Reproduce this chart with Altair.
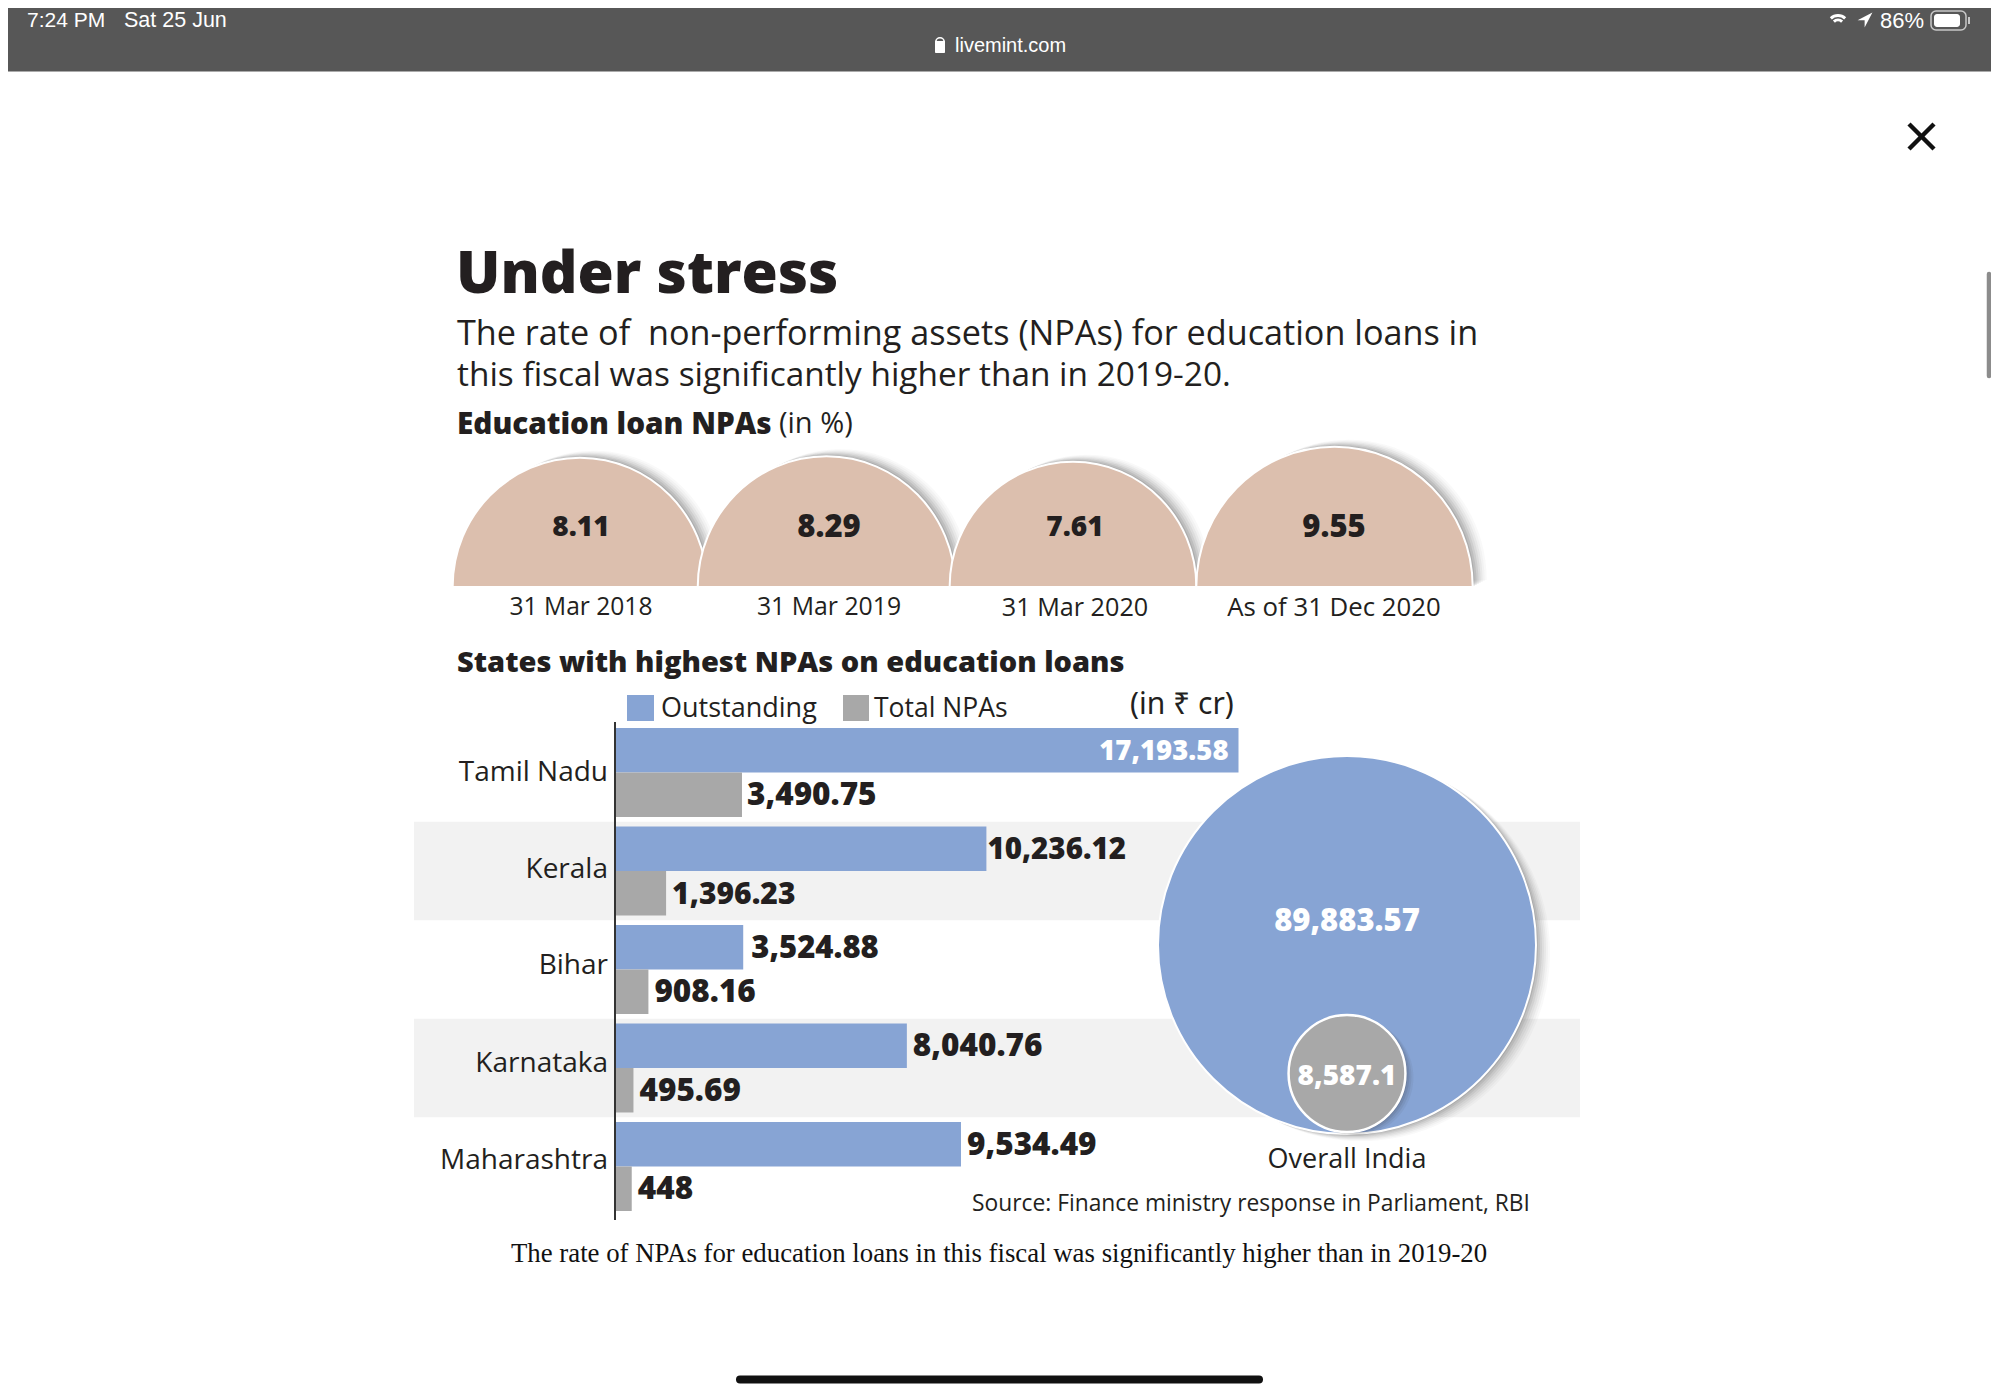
import math
import altair as alt
import pandas as pd

# ---------- data ----------
states = ["Tamil Nadu", "Kerala", "Bihar", "Karnataka", "Maharashtra"]
outstanding = [17193.58, 10236.12, 3524.88, 8040.76, 9534.49]
total_npas = [3490.75, 1396.23, 908.16, 495.69, 448]
outstanding_labels = ["17,193.58", "10,236.12", "3,524.88", "8,040.76", "9,534.49"]
npa_labels = ["3,490.75", "1,396.23", "908.16", "495.69", "448"]
series_names = ["Outstanding", "Total NPAs"]
dates = ["31 Mar 2018", "31 Mar 2019", "31 Mar 2020", "As of 31 Dec 2020"]
rates = [8.11, 8.29, 7.61, 9.55]
rate_labels = ["8.11", "8.29", "7.61", "9.55"]
india_values = [89883.57, 8587.1]
india_labels = ["89,883.57", "8,587.1"]

# ---------- layout & style (page pixels) ----------
W, H = 1983, 1381
def X(v): return v - 8
def Y(v): return v - 8
BLUE, GREY, DOME, BAND, INK = "#87a4d4", "#a8a8a8", "#dcbfae", "#f2f2f2", "#231f20"
SANS, BOLD_FONT, STATUS = "Open Sans", "Open Sans", "Liberation Sans"
HEAVY = 800

def label(text, x, y, size, color=INK, bold=False, align="left", font=SANS):
    return alt.Chart(pd.DataFrame({"k": [0]})).mark_text(
        text=text, fontSize=size, font=font, color=color, align=align, baseline="middle",
        fontWeight=HEAVY if bold else "normal",
    ).encode(x=alt.value(X(x)), y=alt.value(Y(y)))

def box(x0, x1, y0, y1, color, corner=0, **kw):
    return alt.Chart(pd.DataFrame({"k": [0]})).mark_rect(color=color, cornerRadius=corner, **kw).encode(
        x=alt.value(X(x0)), x2=alt.value(X(x1)), y=alt.value(Y(y0)), y2=alt.value(Y(y1)))

def line(x0, y0, x1, y1, color, width, cap="butt"):
    return alt.Chart(pd.DataFrame({"k": [0]})).mark_rule(color=color, strokeWidth=width, strokeCap=cap).encode(
        x=alt.value(X(x0)), x2=alt.value(X(x1)), y=alt.value(Y(y0)), y2=alt.value(Y(y1)))

layers = []

# ---------- browser chrome ----------
layers.append(box(0, 2010, 0, 71.5, "#575757"))
layers.append(label("7:24 PM", 27, 20.5, 21, "#ffffff", font=STATUS))
layers.append(label("Sat 25 Jun", 124, 20.5, 21.5, "#ffffff", font=STATUS))
layers.append(label("livemint.com", 955, 46, 20, "#ffffff", font=STATUS))
layers.append(label("86%", 1880, 20.5, 22, "#ffffff", font=STATUS))
layers.append(box(935, 945, 41, 53, "#ffffff", corner=1))
layers.append(alt.Chart(pd.DataFrame({"k": [0]})).mark_arc(
    radius=5, radius2=3.4, theta=-1.57 + 2 * math.pi, theta2=1.57 + 2 * math.pi, color="#ffffff"
).encode(x=alt.value(X(940)), y=alt.value(Y(42))))
for r0, r1 in [(9, 12), (4.5, 7.5)]:
    layers.append(alt.Chart(pd.DataFrame({"k": [0]})).mark_arc(
        radius=r1, radius2=r0, theta=2 * math.pi - 0.75, theta2=2 * math.pi + 0.75, color="#ffffff"
    ).encode(x=alt.value(X(1838)), y=alt.value(Y(26))))
layers.append(alt.Chart(pd.DataFrame({"k": [0]})).mark_point(
    shape="M1,-1 L-1,0.05 L-0.05,0.05 L-0.05,1 Z", filled=True, color="#ffffff", size=220, opacity=1
).encode(x=alt.value(X(1865)), y=alt.value(Y(20))))
layers.append(box(1931, 1966, 11, 30, "#575757", corner=5, stroke="#c8c8c8", strokeWidth=1.5))
layers.append(box(1934, 1960, 14, 27, "#ffffff", corner=3))
layers.append(line(1969, 17, 1969, 24, "#c8c8c8", 2))

# close icon, scrollbar, home bar
layers.append(line(1909, 124, 1934, 149, "#111111", 4.5))
layers.append(line(1934, 124, 1909, 149, "#111111", 4.5))
layers.append(line(1989, 274, 1989, 376, "#8c8c8c", 4.5, "round"))
layers.append(line(740, 1379.5, 1259, 1379.5, "#111111", 8, "round"))

# ---------- headings ----------
layers.append(label("Under stress", 456, 275, 58.7, bold=True))
layers.append(label("The rate of\u00a0\u00a0non-performing assets (NPAs) for education loans in", 457, 335, 34.2))
layers.append(label("this fiscal was significantly higher than in 2019-20.", 457, 376, 33.4))
layers.append(label("Education loan NPAs", 457, 425, 29.7, bold=True))
layers.append(label("(in %)", 779, 424, 29))

# ---------- domes (area-scaled half ellipses) ----------
dome_x = [580, 826.5, 1073, 1334.5]
dome_label_x = [581, 829, 1075, 1334]
dome_value_size = [28, 31, 28, 31]
dome_date_size = [24.6, 24.8, 25.2, 25.8]
dome_base = 587
DOME_PATH = "M-1,0 C-1,-0.561 -0.552,-1.015 0,-1.015 C0.552,-1.015 1,-0.561 1,0 Z"
dome_size = alt.Size("rate:Q", scale=alt.Scale(domain=[0, 10], range=[0, 80000], zero=True), legend=None)
for i, (d, r) in enumerate(zip(dates, rates)):
    df = pd.DataFrame({"date": [d], "rate": [r]})
    for off, op in [(14, .03), (12, .04), (10, .05), (8, .07), (6, .09), (4, .11), (2, .14)]:
        layers.append(alt.Chart(df).mark_point(shape=DOME_PATH, filled=True, color="#444444", opacity=op).encode(
            size=dome_size, x=alt.value(X(dome_x[i] + off)), y=alt.value(Y(dome_base - off * .5))))
for i, (d, r) in enumerate(zip(dates, rates)):
    df = pd.DataFrame({"date": [d], "rate": [r], "lab": [rate_labels[i]]})
    layers.append(alt.Chart(df).mark_point(shape=DOME_PATH, filled=True, color=DOME, opacity=1, stroke="#ffffff", strokeWidth=2).encode(
        size=dome_size, x=alt.value(X(dome_x[i])), y=alt.value(Y(dome_base))))
for i, (d, r) in enumerate(zip(dates, rates)):
    df = pd.DataFrame({"date": [d], "rate": [r], "lab": [rate_labels[i]]})
    layers.append(alt.Chart(df).mark_text(fontSize=dome_value_size[i], font=BOLD_FONT, fontWeight=HEAVY, color=INK, baseline="middle").encode(
        text="lab:N", x=alt.value(X(dome_label_x[i])), y=alt.value(Y(528))))
    layers.append(alt.Chart(df).mark_text(fontSize=dome_date_size[i], font=SANS, color=INK, baseline="middle").encode(
        text="date:N", x=alt.value(X(dome_label_x[i])), y=alt.value(Y(608))))

# ---------- state bars ----------
layers.append(label("States with highest NPAs on education loans", 457, 663, 29, bold=True))
layers.append(box(627, 654, 695, 721, BLUE))
layers.append(label(series_names[0], 661, 709, 27))
layers.append(box(843, 869, 695, 721, GREY))
layers.append(label(series_names[1], 874, 709, 26.5))
layers.append(label("(in ₹ cr)", 1130, 705, 30, font="Noto Sans"))

rows = pd.DataFrame({
    "state": states * 2,
    "series": [series_names[0]] * 5 + [series_names[1]] * 5,
    "value": outstanding + total_npas,
    "lab": outstanding_labels + npa_labels,
})
px_per_unit = 623 / 17193.58
x_zero = X(615.5)
x_scale = alt.Scale(domain=[-x_zero / px_per_unit, (W - x_zero) / px_per_unit], range=[0, W], nice=False, zero=False)
y_scale = alt.Scale(domain=states, range=[Y(723.25), Y(723.25) + 5 * 98.5], paddingInner=0, paddingOuter=0)
y_enc = alt.Y("state:N", scale=y_scale, axis=None)
yoff = alt.YOffset("series:N", scale=alt.Scale(domain=series_names, paddingInner=0, paddingOuter=0.107))
x_enc = alt.X("value:Q", scale=x_scale, axis=None)

stripes = alt.Chart(pd.DataFrame({"state": [states[1], states[3]]})).mark_bar(color=BAND, opacity=1).encode(
    y=y_enc, x=alt.value(X(414)), x2=alt.value(X(1580)))
layers.append(stripes)
layers.append(alt.Chart(rows).mark_bar(opacity=1).encode(
    x=x_enc, y=y_enc, yOffset=yoff,
    x2=alt.datum(0),
    color=alt.Color("series:N", scale=alt.Scale(domain=series_names, range=[BLUE, GREY]), legend=None),
))
layers.append(line(615, 722, 615, 1220, "#333333", 2))
state_dy = [0, -1, -4, -4, -6]
for s, dy in zip(states, state_dy):
    layers.append(alt.Chart(pd.DataFrame({"state": [s]})).mark_text(
        fontSize=28, font=SANS, color=INK, align="right", baseline="middle", dy=dy
    ).encode(text="state:N", y=y_enc, x=alt.value(X(608))))

def value_labels(test, dx, color=INK, align="left", size=31.5):
    return alt.Chart(rows).transform_filter(test).mark_text(
        fontSize=size, font=BOLD_FONT, fontWeight=HEAVY, color=color, align=align, baseline="middle", dx=dx, dy=1.5
    ).encode(text="lab:N", x=x_enc, y=y_enc, yOffset=yoff)

narrow = "['17,193.58','10,236.12','3,490.75','1,396.23','3,524.88']"
layers.append(value_labels(f"indexof({narrow}, datum.lab) < 0", 6))
layers.append(value_labels("datum.lab === '3,490.75'", 5))
layers.append(value_labels("datum.lab === '3,524.88'", 8, size=31))
layers.append(value_labels("datum.lab === '1,396.23'", 6, size=30))
layers.append(value_labels("datum.lab === '10,236.12'", 1, size=29.5))
layers.append(value_labels("datum.lab === '17,193.58'", -10, "#ffffff", "right", size=27.5))

# ---------- overall India circles ----------
india = pd.DataFrame({"v": india_values, "lab": india_labels, "who": series_names})
size_scale = alt.Scale(domain=[0, 100000], range=[0, 4 * 189 ** 2 / 0.8988357], zero=True)
size = alt.Size("v:Q", scale=size_scale, legend=None)
cx, big_y, small_y = 1347, 945, 1073.5
for off, op in [(14, .03), (12, .04), (10, .05), (8, .06), (6, .08), (4, .1), (2, .14)]:
    layers.append(alt.Chart(india.iloc[[0]]).mark_circle(color="#444444", opacity=op).encode(
        size=size, x=alt.value(X(cx + off)), y=alt.value(Y(big_y + off * .5))))
layers.append(alt.Chart(india.iloc[[0]]).mark_circle(color=BLUE, opacity=1, stroke="#ffffff", strokeWidth=2).encode(
    size=size, x=alt.value(X(cx)), y=alt.value(Y(big_y))))
for off, op in [(8, .06), (6, .08), (4, .1), (2, .14)]:
    layers.append(alt.Chart(india.iloc[[1]]).mark_circle(color="#333333", opacity=op).encode(
        size=size, x=alt.value(X(cx + off)), y=alt.value(Y(small_y + off * .5))))
layers.append(alt.Chart(india.iloc[[1]]).mark_circle(color=GREY, opacity=1, stroke="#ffffff", strokeWidth=2.5).encode(
    size=size, x=alt.value(X(cx)), y=alt.value(Y(small_y))))
layers.append(alt.Chart(india.iloc[[0]]).mark_text(fontSize=31, font=BOLD_FONT, fontWeight=HEAVY, color="#ffffff", baseline="middle").encode(
    text="lab:N", x=alt.value(X(cx)), y=alt.value(Y(922))))
layers.append(alt.Chart(india.iloc[[1]]).mark_text(fontSize=28, font=BOLD_FONT, fontWeight=HEAVY, color="#ffffff", baseline="middle").encode(
    text="lab:N", x=alt.value(X(cx)), y=alt.value(Y(1077))))
layers.append(label("Overall India", cx, 1160, 27, align="center"))
layers.append(label("Source: Finance ministry response in Parliament, RBI", 972, 1204, 22.8))
layers.append(label("The rate of NPAs for education loans in this fiscal was significantly higher than in 2019-20",
                    511, 1254, 26.8, color="#111111", font="Liberation Serif"))

chart = alt.layer(*layers).properties(
    width=W, height=H, padding=0, autosize=alt.AutoSizeParams(type="none"), background="#ffffff"
).configure_view(strokeWidth=0).resolve_scale(color="independent", size="independent")

chart.save("out.html", embed_options={"renderer": "svg", "actions": False})
